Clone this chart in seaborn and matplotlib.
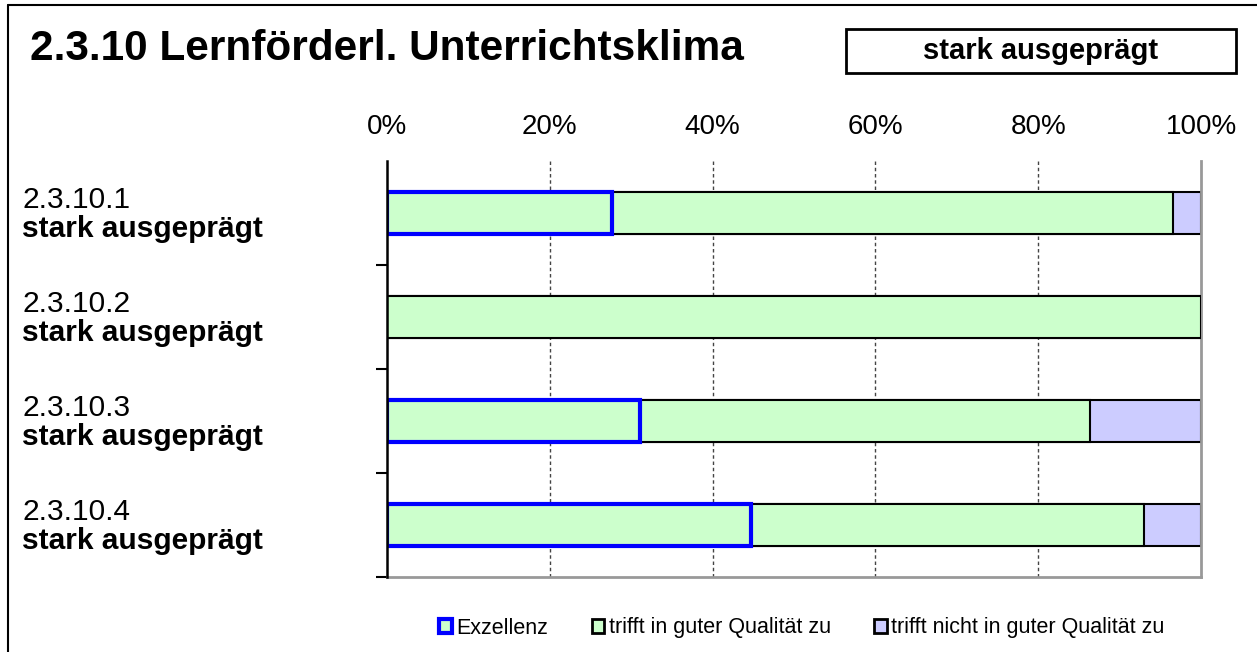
import matplotlib
matplotlib.use("Agg")
import matplotlib.pyplot as plt
import matplotlib.transforms as mtransforms
import seaborn as sns
import pandas as pd
from matplotlib.patches import Rectangle, Patch
from matplotlib.lines import Line2D

# ---- data ----
items = ["2.3.10.1", "2.3.10.2", "2.3.10.3", "2.3.10.4"]
ratings = ["stark ausgeprägt", "stark ausgeprägt", "stark ausgeprägt", "stark ausgeprägt"]
exzellenz = [27.6, 0.0, 31.1, 44.7]
trifft_gut = [69.0, 100.0, 55.3, 48.3]
trifft_nicht = [3.4, 0.0, 13.6, 7.0]
x_ticks = [0, 20, 40, 60, 80, 100]
x_labels = ["0%", "20%", "40%", "60%", "80%", "100%"]
title = "2.3.10 Lernförderl. Unterrichtsklima"
overall = "stark ausgeprägt"
legend_labels = ["Exzellenz", "trifft in guter Qualität zu", "trifft nicht in guter Qualität zu"]

sns.set_theme(style="white")
plt.rcParams["font.family"] = ["Liberation Sans", "DejaVu Sans"]
plt.rcParams["text.color"] = "black"
plt.rcParams["xtick.color"] = "black"
plt.rcParams["ytick.color"] = "black"

GREEN = "#CCFFCC"
PURPLE = "#CCCCFF"
BLUE = "#0000FF"

df = pd.DataFrame({
    "item": items,
    "exz": exzellenz,
    "gut": trifft_gut,
    "nicht": trifft_nicht,
})
df["cum_gut"] = df["exz"] + df["gut"]
df["cum_all"] = df["cum_gut"] + df["nicht"]

W, H = 1257, 652
fig = plt.figure(figsize=(W / 100, H / 100), dpi=100)
ax = fig.add_axes([387 / W, 1 - 577 / H, (1201 - 387) / W, (577 - 161) / H])

bw = 0.4
sns.barplot(data=df, x="cum_all", y="item", orient="h", color=PURPLE, saturation=1,
            edgecolor="black", linewidth=1.5, width=bw, errorbar=None, ax=ax, zorder=2)
sns.barplot(data=df, x="cum_gut", y="item", orient="h", color=GREEN, saturation=1,
            edgecolor="black", linewidth=1.5, width=bw, errorbar=None, ax=ax, zorder=3)
n1 = len(ax.patches)
sns.barplot(data=df, x="exz", y="item", orient="h", color=GREEN, saturation=1,
            edgecolor=BLUE, linewidth=3.0, width=bw, errorbar=None, ax=ax, zorder=4)
for p in ax.patches[n1:]:
    if p.get_width() <= 0:
        p.set_linewidth(0)
        p.set_visible(False)
    p.set_zorder(4)

ax.set_xlim(0, 100)
ax.set_ylim(3.5, -0.5)

# x axis on top
ax.xaxis.set_ticks_position("top")
ax.set_xticks(x_ticks)
ax.set_xticklabels(x_labels, fontsize=20)
ax.tick_params(axis="x", length=0, pad=15, colors="black")
ax.set_xlabel("")
ax.set_ylabel("")

# gridlines
for xv in x_ticks[1:-1]:
    ax.axvline(xv, color="#444444", linestyle=(0, (2.5, 2)), linewidth=1.0, zorder=1)

# y ticks between categories
ax.set_yticks([0.5, 1.5, 2.5, 3.5])
ax.set_yticklabels([])
ax.tick_params(axis="y", left=True, length=8, width=1.5, color="black", direction="out")

ax.spines["top"].set_visible(False)
ax.spines["left"].set_color("black")
ax.spines["left"].set_linewidth(1.8)
ax.spines["right"].set_color("#999999")
ax.spines["right"].set_linewidth(2)
ax.spines["bottom"].set_color("#999999")
ax.spines["bottom"].set_linewidth(2)
ax.spines["left"].set_zorder(6)

# category labels
lab_tr = mtransforms.blended_transform_factory(fig.transFigure, ax.transData)
for i, (it, rt) in enumerate(zip(items, ratings)):
    ax.text(22 / W, i - 0.05, it, transform=lab_tr, fontsize=21.5, va="baseline", ha="left")
    ax.text(22 / W, i + 0.23, rt, transform=lab_tr, fontsize=21.5, fontweight="bold",
            va="baseline", ha="left")

# title
fig.text(30 / W, 1 - 60 / H, title, fontsize=30.5, fontweight="bold", va="baseline", ha="left")

# overall box
fig.add_artist(Rectangle((846 / W, 1 - 73 / H), (1236 - 846) / W, (73 - 29) / H,
                         transform=fig.transFigure, facecolor="white", edgecolor="black",
                         linewidth=2))
fig.text(1041 / W, 1 - 51 / H, overall, fontsize=21, fontweight="bold", va="center", ha="center")

# frame lines
fig.add_artist(Line2D([8 / W, 8 / W], [0, 1 - 5 / H], transform=fig.transFigure, color="black", linewidth=1.5))
fig.add_artist(Line2D([8 / W, 1], [1 - 5 / H, 1 - 5 / H], transform=fig.transFigure, color="black", linewidth=1.5))

# legend
handles = [
    Patch(facecolor=GREEN, edgecolor=BLUE, linewidth=3),
    Patch(facecolor=GREEN, edgecolor="black", linewidth=2),
    Patch(facecolor=PURPLE, edgecolor="black", linewidth=2),
]
fig.legend(handles, legend_labels, loc="center", bbox_to_anchor=(802 / W, 1 - 628 / H),
           ncol=3, frameon=False, fontsize=15.5, handlelength=0.6, handleheight=0.6,
           handletextpad=0.2, columnspacing=2.0)

fig.savefig("out.png", dpi=100)
